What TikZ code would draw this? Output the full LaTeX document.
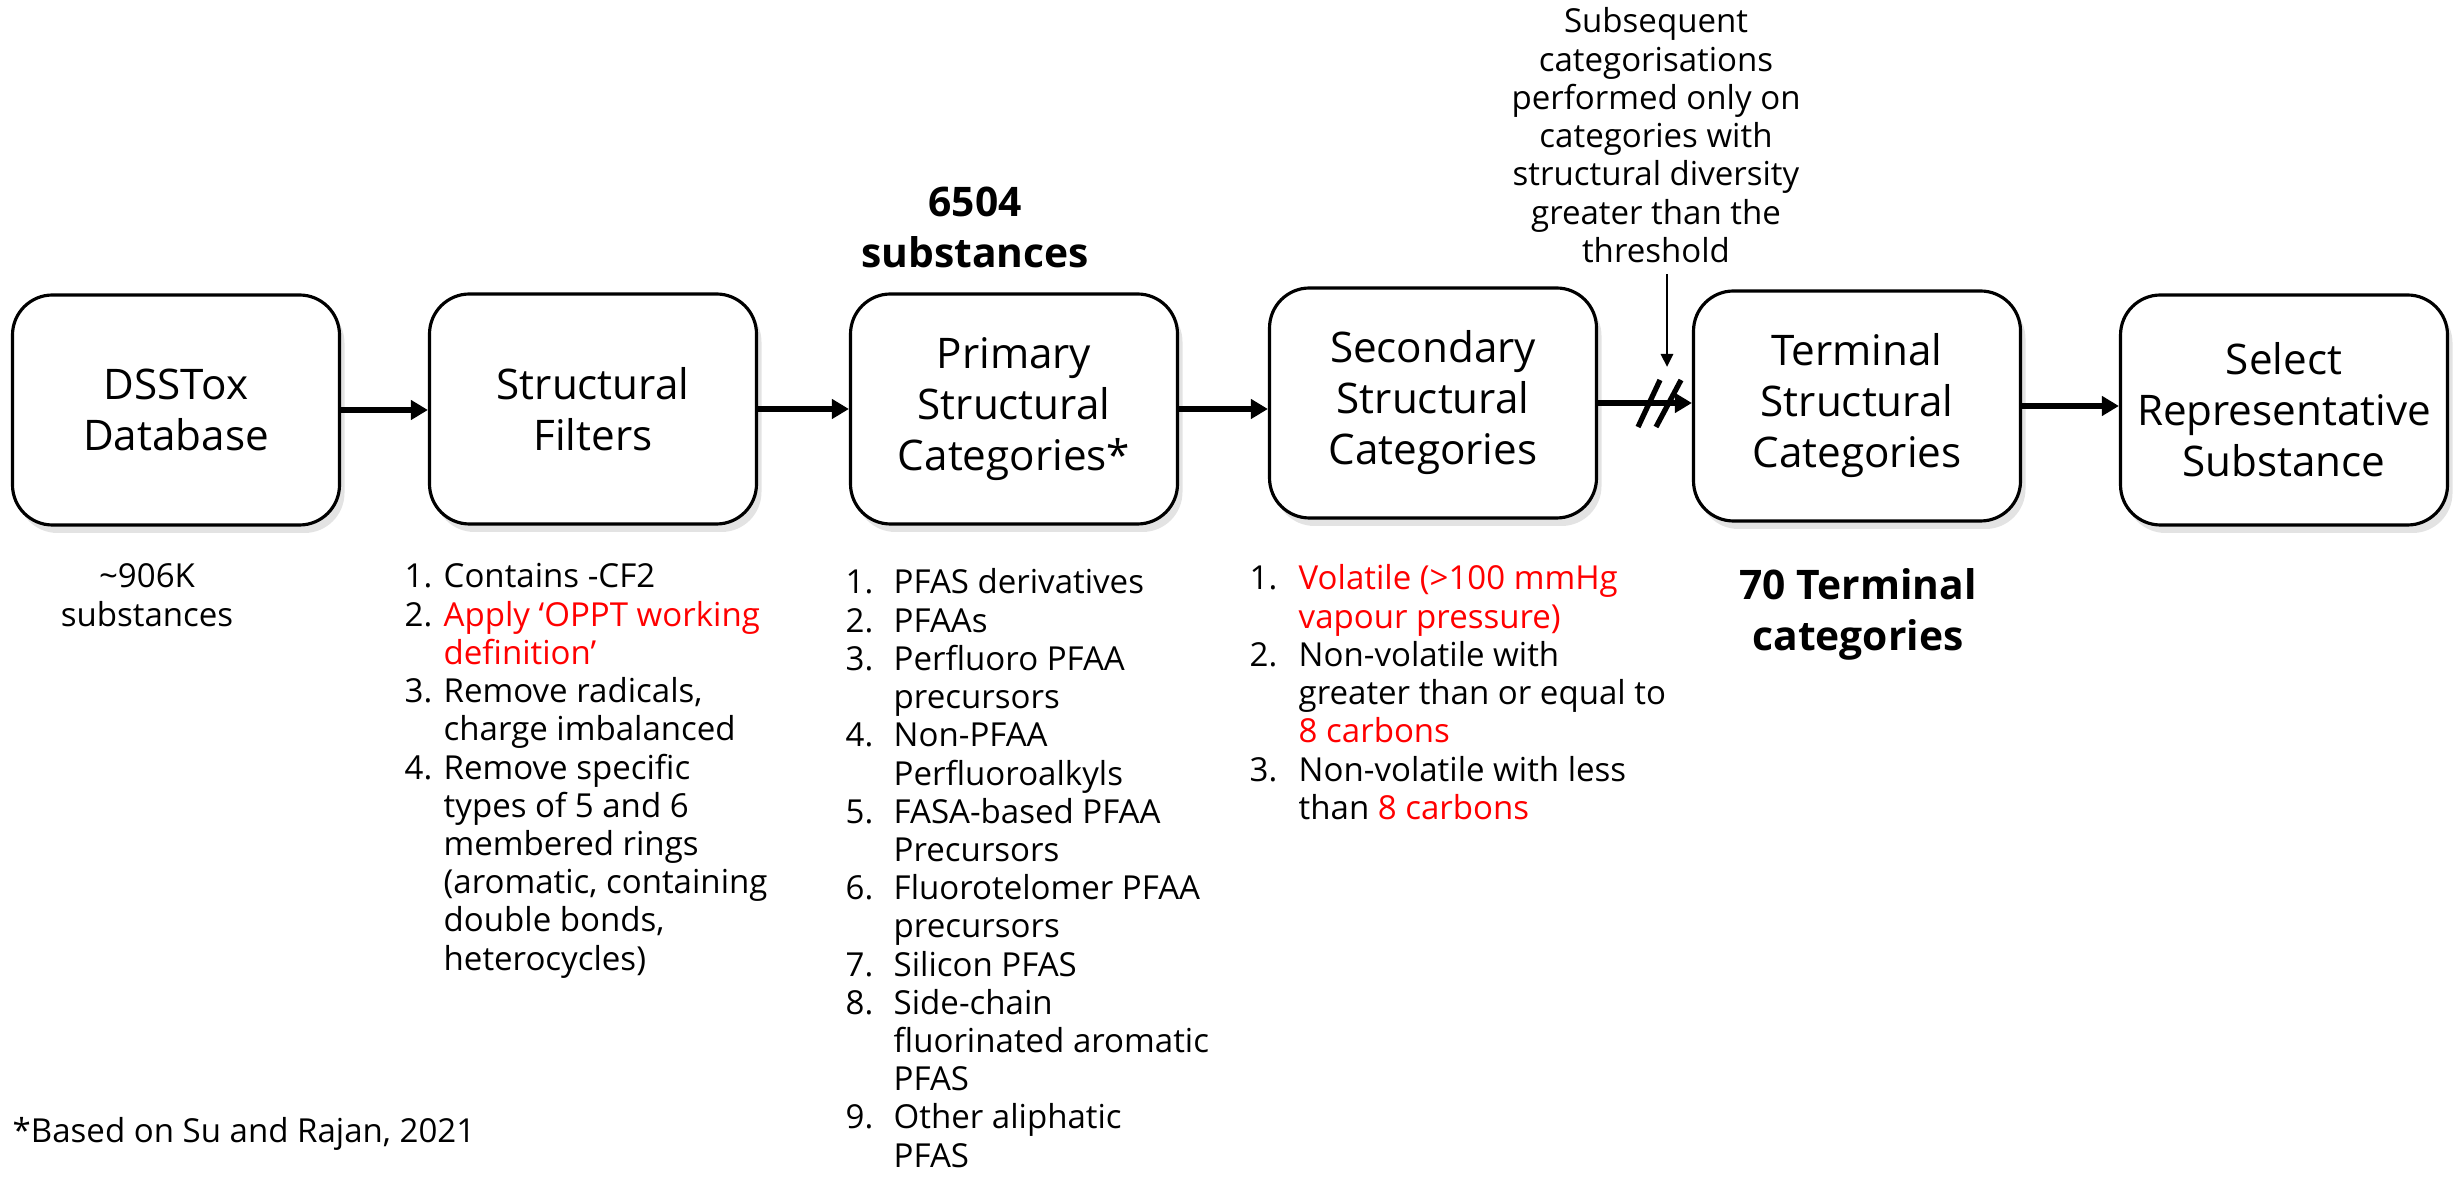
\documentclass[tikz,border=0pt]{standalone}
\usepackage{fontspec}
\setmainfont{Open Sans}
\usetikzlibrary{arrows.meta, shadows}

\newcommand{\boxtext}{\fontsize{12}{14.5}\selectfont}
\newcommand{\listtext}{\fontsize{9.4}{10.87}\selectfont}
\newcommand{\counttext}{\fontsize{11.6}{14.4}\selectfont\bfseries}
\newcommand{\redtxt}[1]{\textcolor{red}{#1}}

\begin{document}
\begin{tikzpicture}[
  every node/.style={inner sep=0pt},
  box/.style={draw, line width=0.9pt, rounded corners=4mm, fill=white, minimum width=32.7mm, minimum height=23mm, align=center, font=\boxtext,
    drop shadow={shadow xshift=0.5mm, shadow yshift=-0.8mm, opacity=0.22}},
  arr/.style={-{Triangle[length=1.7mm, width=1.9mm]}, line width=1.5pt},
  pin/.style={-{Triangle[length=1.3mm, width=1.2mm]}, line width=0.8pt},
  lst/.style={anchor=base west, font=\listtext},
  txt/.style={anchor=base, font=\listtext},
  count/.style={anchor=base, font=\counttext}
]
  \useasboundingbox (0,0) rectangle (24.63,-11.79);

  \node[box] (DSSTox) at (1.76,-4.10) {DSSTox\\Database};
  \node[box] (Filters) at (5.93,-4.09) {Structural\\Filters};
  \node[box] (Primary) at (10.14,-4.09) {Primary\\Structural\\Categories*};
  \node[box] (Secondary) at (14.33,-4.03) {Secondary\\Structural\\Categories};
  \node[box] (Terminal) at (18.57,-4.06) {Terminal\\Structural\\Categories};
  \node[box] (Select) at (22.84,-4.10) {Select\\Representative\\Substance};

  \draw[arr] (DSSTox.east) -- (DSSTox.east -| Filters.west);
  \draw[arr] (Filters.east) -- (Filters.east -| Primary.west);
  \draw[arr] (Primary.east) -- (Primary.east -| Secondary.west);
  \draw[arr] (Secondary.east) -- (Secondary.east -| Terminal.west);
  \draw[arr] (Terminal.east) -- (Terminal.east -| Select.west);

  \coordinate (Cut) at (16.59,-4.03);
  \draw[line width=1.5pt] (Cut) ++(-0.21,-0.24) -- ++(0.22,0.47)
    (Cut) ++(-0.03,-0.24) -- ++(0.25,0.47);

  \node[txt] (Note) at (16.56,-0.33) {\begin{tabular}[t]{@{}c@{}}
    Subsequent\\categorisations\\performed only on\\categories with\\structural diversity\\greater than the\\threshold\end{tabular}};
  \coordinate (Drop) at (16.67,-3.67);
  \draw[pin] (Drop |- Note.south) -- (Drop);

  \node[count] (Kept) at (9.75,-2.17) {\begin{tabular}[t]{@{}c@{}}6504\\substances\end{tabular}};
  \node[count] (TermCount) at (18.58,-6.00) {\begin{tabular}[t]{@{}c@{}}70 Terminal\\categories\end{tabular}};
  \node[txt] (Total) at (1.47,-5.88) {\begin{tabular}[t]{@{}c@{}}\textasciitilde906K\\substances\end{tabular}};

  \node[lst] (FilterList) at (4.04,-5.88) {\begin{tabular}[t]{@{}p{3.9mm}@{}l@{}}
    1. & Contains -CF2\\
    2. & \redtxt{Apply ‘OPPT working}\\
       & \redtxt{definition’}\\
    3. & Remove radicals,\\
       & charge imbalanced\\
    4. & Remove specific\\
       & types of 5 and 6\\
       & membered rings\\
       & (aromatic, containing\\
       & double bonds,\\
       & heterocycles)
  \end{tabular}};
  \node[lst] (PrimaryList) at (8.45,-5.94) {\begin{tabular}[t]{@{}p{4.8mm}@{}l@{}}
    1. & PFAS derivatives\\
    2. & PFAAs\\
    3. & Perfluoro PFAA\\
       & precursors\\
    4. & Non-PFAA\\
       & Perfluoroalkyls\\
    5. & FASA-based PFAA\\
       & Precursors\\
    6. & Fluorotelomer PFAA\\
       & precursors\\
    7. & Silicon PFAS\\
    8. & Side-chain\\
       & fluorinated aromatic\\
       & PFAS\\
    9. & Other aliphatic\\
       & PFAS
  \end{tabular}};
  \node[lst] (SecondaryList) at (12.49,-5.90) {\begin{tabular}[t]{@{}p{4.9mm}@{}l@{}}
    1. & \redtxt{Volatile (>100 mmHg}\\
       & \redtxt{vapour pressure)}\\
    2. & Non-volatile with\\
       & greater than or equal to\\
       & \redtxt{8 carbons}\\
    3. & Non-volatile with less\\
       & than \redtxt{8 carbons}
  \end{tabular}};

  \node[lst] (Source) at (0.12,-11.42) {*Based on Su and Rajan, 2021};
\end{tikzpicture}
\end{document}
